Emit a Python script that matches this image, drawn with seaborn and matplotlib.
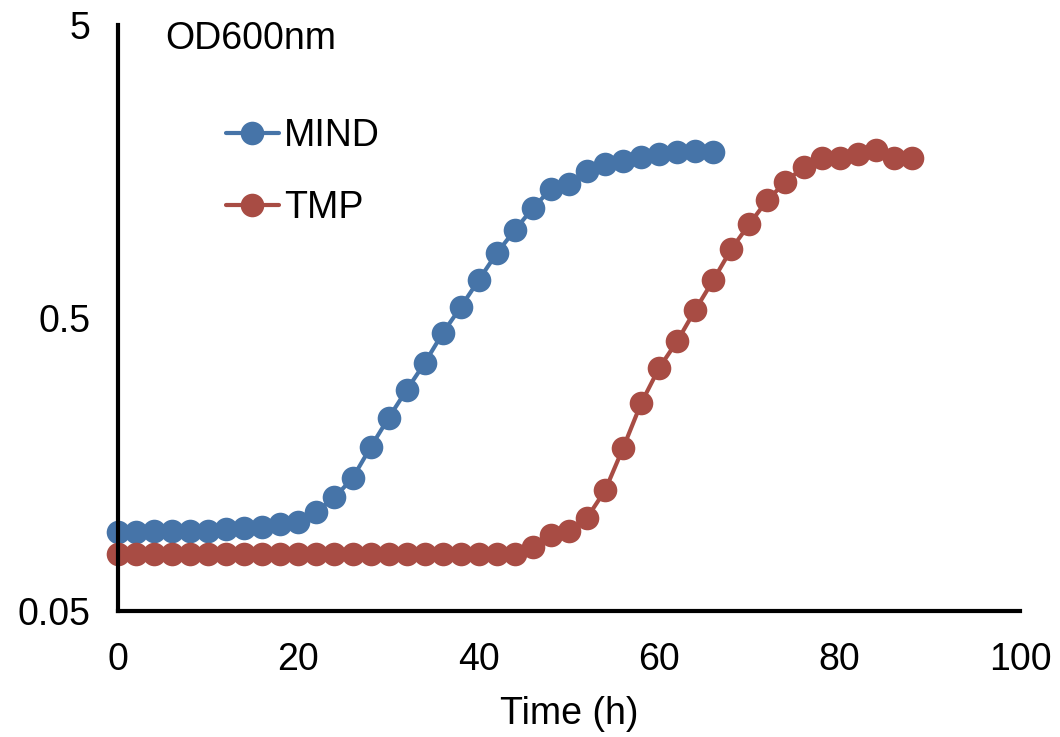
import matplotlib
matplotlib.use("Agg")
import matplotlib.pyplot as plt
from matplotlib.lines import Line2D
from matplotlib.ticker import FixedLocator, FixedFormatter, NullLocator
import seaborn as sns
import pandas as pd

# ---- data ----
mind_time = [0, 2, 4, 6, 8, 10, 12, 14, 16, 18, 20, 22, 24, 26, 28, 30, 32,
             34, 36, 38, 40, 42, 44, 46, 48, 50, 52, 54, 56, 58, 60, 62, 64, 66]
mind_od = [0.093, 0.093, 0.094, 0.094, 0.094, 0.094, 0.095, 0.096, 0.097, 0.099,
           0.101, 0.109, 0.122, 0.142, 0.181, 0.228, 0.284, 0.351, 0.444, 0.545,
           0.674, 0.833, 0.998, 1.187, 1.378, 1.433, 1.587, 1.677, 1.717, 1.772,
           1.814, 1.843, 1.855, 1.843]

tmp_time = [0, 2, 4, 6, 8, 10, 12, 14, 16, 18, 20, 22, 24, 26, 28, 30, 32, 34,
            36, 38, 40, 42, 44, 46, 48, 50, 52, 54, 56, 58, 60, 62, 64, 66, 68,
            70, 72, 74, 76, 78, 80, 82, 84, 86, 88]
tmp_od = [0.078, 0.078, 0.078, 0.078, 0.078, 0.078, 0.078, 0.078, 0.078, 0.078,
          0.078, 0.078, 0.078, 0.078, 0.078, 0.078, 0.078, 0.078, 0.078, 0.078,
          0.078, 0.078, 0.078, 0.083, 0.091, 0.094, 0.104, 0.129, 0.180, 0.256,
          0.338, 0.417, 0.533, 0.674, 0.860, 1.047, 1.264, 1.456, 1.638, 1.759,
          1.759, 1.814, 1.872, 1.759, 1.759]

series_names = ["MIND", "TMP"]
series_colors = ["#4674A8", "#A84C44"]
y_ticks = [0.05, 0.5, 5]
y_tick_labels = ["0.05", "0.5", "5"]
x_ticks = [0, 20, 40, 60, 80, 100]

df = pd.concat([
    pd.DataFrame({"Time": mind_time, "OD": mind_od, "Strain": "MIND"}),
    pd.DataFrame({"Time": tmp_time, "OD": tmp_od, "Strain": "TMP"}),
], ignore_index=True)

sns.set_style("white")
plt.rcParams["font.family"] = ["Liberation Sans", "DejaVu Sans"]
plt.rcParams["text.color"] = "black"

W, H = 1060, 737
fig = plt.figure(figsize=(W / 100, H / 100), dpi=100)
x0, x1 = 118, 1020
y0, y1 = 25, 611
ax = fig.add_axes([x0 / W, 1 - y1 / H, (x1 - x0) / W, (y1 - y0) / H])

palette = dict(zip(series_names, series_colors))
sns.lineplot(data=df, x="Time", y="OD", hue="Strain", hue_order=series_names,
             palette=palette, estimator=None, marker="o", markersize=17,
             markeredgewidth=0, linewidth=3, legend=False, ax=ax,
             clip_on=False, zorder=3)

ax.set_yscale("log")
ax.set_xlim(0, 100)
ax.set_ylim(0.05, 5)
ax.yaxis.set_major_locator(FixedLocator(y_ticks))
ax.yaxis.set_major_formatter(FixedFormatter(y_tick_labels))
ax.yaxis.set_minor_locator(NullLocator())
ax.set_xticks(x_ticks)
ax.set_xticklabels([str(v) for v in x_ticks])

for side in ["top", "right"]:
    ax.spines[side].set_visible(False)
for side in ["left", "bottom"]:
    ax.spines[side].set_color("black")
    ax.spines[side].set_linewidth(3)
    ax.spines[side].set_zorder(5)

FS = 27
ax.tick_params(axis="both", which="major", direction="out", length=9, width=2.5,
               color="black", labelsize=FS, labelcolor="black")
ax.tick_params(axis="x", pad=13)
ax.tick_params(axis="y", pad=11)

ax.set_xlabel("Time (h)", fontsize=FS, labelpad=13, color="black")
ax.set_ylabel("")

fig.text(165 / W, 1 - 49 / H, "OD600nm", fontsize=FS, va="baseline",
         ha="left", color="black")

handles = [Line2D([], [], color=c, marker="o", markersize=17, markeredgewidth=0,
                  linewidth=3) for c in series_colors]
leg = ax.legend(handles, series_names, loc="upper left",
                bbox_to_anchor=((226 - x0) / (x1 - x0), 1 - (118 - y0) / (y1 - y0)),
                frameon=False, fontsize=FS, handlelength=1.4, handletextpad=0.15,
                labelspacing=0.95, borderaxespad=0, borderpad=0, labelcolor="black")

fig.savefig("out.png", dpi=100, facecolor="white")
